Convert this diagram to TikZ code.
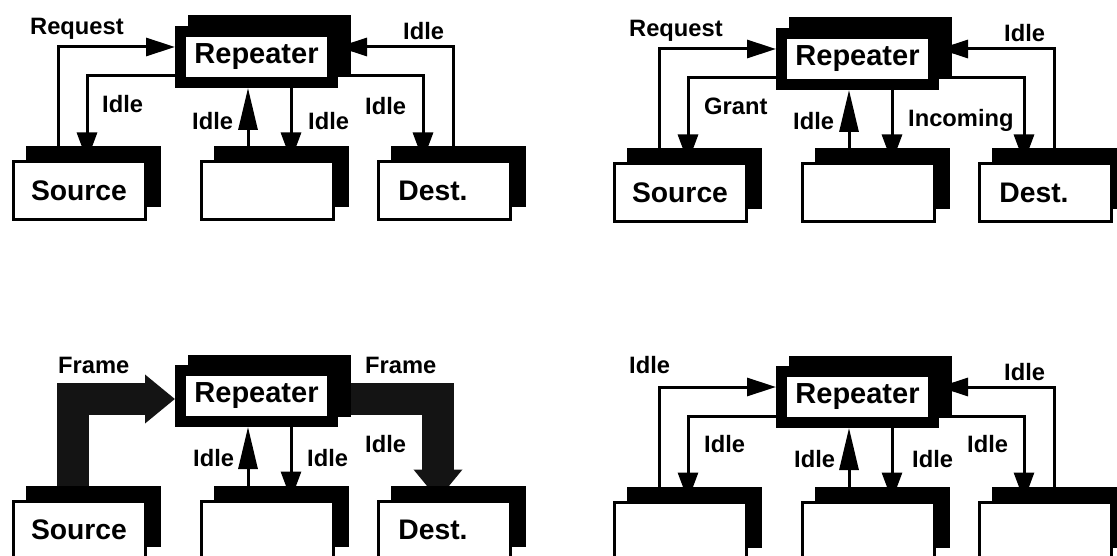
\documentclass[tikz,border=0pt]{standalone}
\usepackage{fontspec}
\setmainfont{Liberation Sans}
\usetikzlibrary{arrows.meta,backgrounds}
\newcommand\lblfont{\fontsize{23.7pt}{24pt}\selectfont\bfseries}
\newcommand\boxfont{\fontsize{28.3pt}{29pt}\selectfont\bfseries}
\newcommand\repfont{\fontsize{29pt}{30pt}\selectfont\bfseries}
\tikzset{
  box/.style={draw=black, line width=3pt, fill=white, minimum width=132pt,
    minimum height=58pt, inner sep=0pt, outer sep=1.5pt, font=\boxfont},
  repbox/.style={draw=black, line width=11pt, fill=white, minimum width=152pt,
    minimum height=51pt, inner sep=0pt, outer sep=5.5pt, font=\repfont},
  conn/.style={line width=3pt, draw=black},
  harr/.style={conn, -{Triangle[length=29pt,width=18pt]}},
  darr/.style={conn, -{Triangle[length=28pt,width=20pt]}},
  uarr/.style={conn, -{Triangle[length=42pt,width=19pt]}},
  band/.style={line width=32pt, draw=black!92, line join=miter,
    -{Triangle[length=30pt,width=47pt]}},
  lbl/.style={anchor=base west, inner sep=0pt, font=\lblfont},
  shadowfill/.style={fill=black},
}
\newcommand\midconn[1]{%
  \coordinate (mu#1) at ([shift={(-19.5,0)}]mid#1.north);
  \coordinate (md#1) at ([shift={(23.5,0)}]mid#1.north);
  \draw[uarr] (mu#1) -- (mu#1 |- rep#1.south);
  \draw[darr] (md#1 |- rep#1.south) -- (md#1);
}
\newcommand\sideconn[1]{%
  \draw[harr] ([shift={(-21,0)}]src#1.north) |- ([shift={(0,-10)}]rep#1.west);
  \draw[darr] ([shift={(0,19)}]rep#1.west) -| ([shift={(8,0)}]src#1.north);
  \draw[darr] ([shift={(0,19)}]rep#1.east) -| ([shift={(-21,0)}]dst#1.north);
  \draw[harr] ([shift={(9,0)}]dst#1.north) |- ([shift={(0,-10)}]rep#1.east);
}
\newcommand\shadows[1]{%
  \fill[shadowfill] ([shift={(12.5,-10.5)}]rep#1.south west) rectangle ([shift={(12.5,-10.5)}]rep#1.north east);
  \fill[shadowfill] ([shift={(14,-14)}]src#1.south west) rectangle ([shift={(14,-14)}]src#1.north east);
  \fill[shadowfill] ([shift={(14,-14)}]mid#1.south west) rectangle ([shift={(14,-14)}]mid#1.north east);
  \fill[shadowfill] ([shift={(14,-14)}]dst#1.south west) rectangle ([shift={(14,-14)}]dst#1.north east);
}
\begin{document}
\begin{tikzpicture}[x=1pt,y=-1pt]
\useasboundingbox (0,0) rectangle (1117,556);
\begin{pgfonlayer}{background}
  \fill[white] (0,0) rectangle (1117,556);
\end{pgfonlayer}
\clip (0,0) rectangle (1117,556);

% ---------- panel 1 ----------
\begin{scope}
  \node[repbox] (rep1) at (256.5,57) {Repeater};
  \node[box] (src1) at (79,191) {Source};
  \node[box] (mid1) at (267.5,191) {};
  \node[box] (dst1) at (444,191) {Dest.\kern22pt};
  \node[lbl] (a1) at (30,35) {Request};
  \node[lbl] (b1) at (403,40) {Idle};
  \node[lbl] (c1) at (102,113) {Idle};
  \node[lbl] (d1) at (192,130) {Idle};
  \node[lbl] (e1) at (308,130) {Idle};
  \node[lbl] (f1) at (365,115) {Idle};
  \begin{pgfonlayer}{background}
    \sideconn{1}\midconn{1}\shadows{1}
  \end{pgfonlayer}
\end{scope}

% ---------- panel 2 ----------
\begin{scope}[shift={(601,2)}]
  \node[repbox] (rep2) at (256.5,57) {Repeater};
  \node[box] (src2) at (79,191) {Source};
  \node[box] (mid2) at (267.5,191) {};
  \node[box] (dst2) at (444,191) {Dest.\kern22pt};
  \node[lbl] (a2) at (28,35) {Request};
  \node[lbl] (b2) at (403,40) {Idle};
  \node[lbl] (c2) at (103,113) {Grant};
  \node[lbl] (d2) at (192,128) {Idle};
  \node[lbl] (e2) at (307,125) {Incoming};
  \begin{pgfonlayer}{background}
    \sideconn{2}\midconn{2}\shadows{2}
  \end{pgfonlayer}
\end{scope}

% ---------- panel 3 ----------
\begin{scope}[shift={(0,339)}]
  \node[repbox] (rep3) at (256.5,57) {Repeater};
  \node[box] (src3) at (79,191) {Source};
  \node[box] (mid3) at (267.5,191) {};
  \node[box] (dst3) at (444,191) {Dest.\kern22pt};
  \node[lbl] (a3) at (58,34) {Frame};
  \node[lbl] (b3) at (365,34) {Frame};
  \node[lbl] (d3) at (193,127) {Idle};
  \node[lbl] (e3) at (307,127) {Idle};
  \node[lbl] (f3) at (365,113) {Idle};
  \begin{pgfonlayer}{background}
    \draw[band] ([shift={(-6.5,0)}]src3.north) |- ([shift={(0,3)}]rep3.west);
    \draw[band] ([shift={(0,3)}]rep3.east) -| ([shift={(-6,0)}]dst3.north);
    \midconn{3}\shadows{3}
  \end{pgfonlayer}
\end{scope}

% ---------- panel 4 ----------
\begin{scope}[shift={(601,340)}]
  \node[repbox] (rep4) at (256.5,57) {Repeater};
  \node[box] (src4) at (79,191) {};
  \node[box] (mid4) at (267.5,191) {};
  \node[box] (dst4) at (444,191) {};
  \node[lbl] (a4) at (28,33) {Idle};
  \node[lbl] (b4) at (403,40) {Idle};
  \node[lbl] (c4) at (103,112) {Idle};
  \node[lbl] (d4) at (193,127) {Idle};
  \node[lbl] (e4) at (311,127) {Idle};
  \node[lbl] (f4) at (366,112) {Idle};
  \begin{pgfonlayer}{background}
    \sideconn{4}\midconn{4}\shadows{4}
  \end{pgfonlayer}
\end{scope}
\end{tikzpicture}
\end{document}
